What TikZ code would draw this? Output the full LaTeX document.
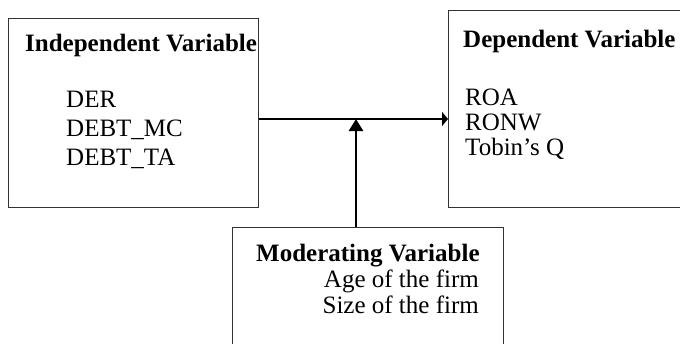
\documentclass[tikz,border=0pt]{standalone}
\usepackage{fontspec}
\setmainfont{Liberation Serif}
\usetikzlibrary{arrows.meta}

\begin{document}
\begin{tikzpicture}[x=1pt,y=-1pt,
    box/.style={draw=black!80,line width=1pt,inner sep=0pt,anchor=north west},
    txt/.style={inner sep=0pt,anchor=base west,font=\fontsize{25}{29}\selectfont},
    head/.style={txt,font=\fontsize{25}{29}\selectfont\bfseries},
    link/.style={line width=2.7pt}]
  \useasboundingbox (0,0) rectangle (680,343);
  % boxes
  \node[box,minimum width=250,minimum height=189] (indep) at (8,18) {};
  \node[box,minimum width=262,minimum height=197] (dep) at (448,10) {};
  \node[box,minimum width=271,minimum height=140] (moder) at (232,227) {};
  % texts
  \node[head] (indeptitle) at (25,51) {Independent Variable};
  \node[txt] (der) at (66,107) {DER};
  \node[txt] (debtmc) at (66,136) {DEBT\_MC};
  \node[txt] (debtta) at (66,165) {DEBT\_TA};
  \node[head] (deptitle) at (463,47) {Dependent Variable};
  \node[txt] (roa) at (465,105) {ROA};
  \node[txt] (ronw) at (465,130) {RONW};
  \node[txt] (tobin) at (465,155) {Tobin’s Q};
  \node[head] (modertitle) at (256,261) {Moderating Variable};
  \node[txt,anchor=base east] (age) at (479,287) {Age of the firm};
  \node[txt,anchor=base east] (size) at (479,313) {Size of the firm};
  % arrows
  \coordinate (join) at (356,119);
  \draw[link,-{Triangle[length=6pt,width=14pt]}] (indep.east |- join) -- (dep.west |- join);
  \draw[link,-{Triangle[length=12pt,width=14pt]}] (moder.north -| join) -- (join);
\end{tikzpicture}
\end{document}
